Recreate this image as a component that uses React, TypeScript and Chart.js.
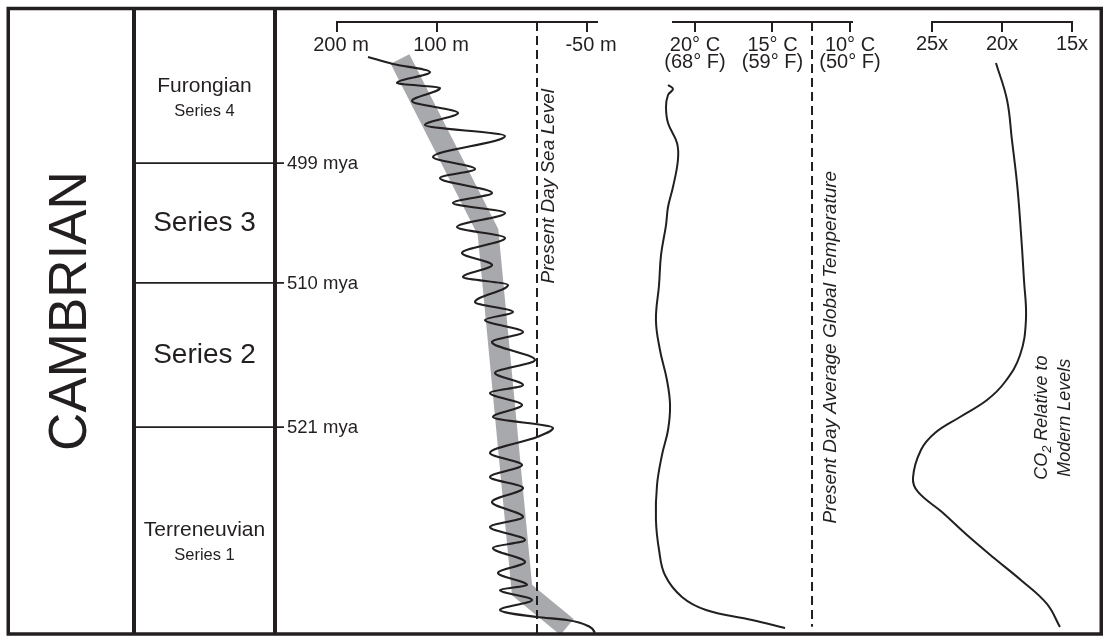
import React, { useEffect, useRef } from "react";
import { Chart, registerables } from "chart.js";

Chart.register(...registerables);

// ---------------- DATA ----------------
// Vertical axis: stratigraphic position down the column, 0 = top (youngest), 100 = base (oldest)
const periodName = "CAMBRIAN";
const seriesNames = ["Furongian", "Series 3", "Series 2", "Terreneuvian"];
const seriesSubNames = ["Series 4", "", "", "Series 1"];
const seriesTop = [0, 24.7, 43.9, 67.0];
const seriesBottom = [24.7, 43.9, 67.0, 100];
const boundaryLabels = ["499 mya", "510 mya", "521 mya"];
const boundaryPos = [24.7, 43.9, 67.0];

// Sea level (metres above present day)
const seaTickValues = [200, 100, -50];
const seaPos = [7.69, 8.81, 10.1, 11.86, 12.66, 14.74, 16.67, 18.59, 20.35, 23.72, 25.64, 27.08, 29.49, 31.09, 32.69, 34.94, 36.7, 39.1, 41.03, 42.95, 44.23, 46.96, 48.56, 49.84, 51.76, 53.37, 56.25, 58.33, 60.26, 61.54, 63.46, 65.38, 67.15, 68.59, 71.15, 73.08, 75.0, 76.76, 79.01, 81.41, 83.01, 85.1, 86.38, 88.62, 90.38, 92.31, 93.11, 94.71, 96.31, 97.44, 97.92, 99.04, 100];
const seaLevel = [169, 144, 107, 140, 97, 125, 79, 112, 32, 104, 62, 97, 45, 84, 32, 80, 32, 75, 45, 74, 29, 62, 24, 52, 14, 45, 2, 42, 14, 47, 15, 44, -16, 0, 47, 15, 47, 14, 45, 14, 47, 12, 44, 12, 39, 10, 37, 5, 37, 0, -30, -53, -58];
const seaTrendPos = [8.0, 35.74, 93.11, 99.04];
const seaTrend = [137, 49, 15, -30];
const presentSeaLevel = 0;

// Global temperature (deg C)
const tempTickValues = [20, 15, 10];
const tempTickF = [68, 59, 50];
const tempPos = [12.18, 12.82, 13.78, 15.71, 18.27, 21.47, 24.2, 28.53, 31.73, 34.62, 39.42, 44.23, 49.84, 54.65, 59.46, 63.46, 67.47, 71.47, 76.28, 81.89, 86.7, 90.71, 94.23, 96.31, 97.92, 99.2];
const tempC = [21.74, 21.42, 21.74, 21.87, 21.74, 21.16, 21.1, 21.42, 21.74, 21.87, 22.19, 22.32, 22.52, 22.26, 21.81, 21.61, 21.74, 22.13, 22.45, 22.52, 22.32, 21.94, 20.84, 19.29, 16.32, 14.19];
const presentTemp = 12.45;

// CO2 relative to modern levels (x)
const co2TickValues = [25, 20, 15];
const co2Pos = [8.65, 14.58, 20.99, 27.88, 33.81, 43.43, 49.84, 55.45, 59.78, 62.66, 65.38, 67.95, 70.67, 75.16, 77.4, 80.61, 84.29, 87.98, 91.67, 95.35, 99.04];
const co2Level = [20.43, 19.64, 19.29, 18.93, 18.71, 18.43, 18.29, 18.71, 19.79, 21.07, 23.0, 24.79, 25.79, 26.36, 26.0, 24.29, 22.5, 20.57, 18.57, 16.79, 15.86];

// ---------------- LAYOUT / STYLE ----------------
const W = 1105;
const H = 637;
const PLOT_TOP = 9;
const PLOT_BOTTOM = 633;
const AXIS_POS = 2.08; // position of the top axes lines
const FONT = "'Liberation Sans', Arial, Helvetica, sans-serif";
const INK = "#231f20";
const BAND = "#a7a9ac";

const FRAME = { left: 8.25, top: 8.5, right: 1101.25, bottom: 634 };
const COL1_X = 134;
const COL2_X = 275;

const pts = (xs: number[], ys: number[]) => xs.map((v, i) => ({ x: v, y: ys[i] }));

function makeLabelPlugin(id: string, lines: { t: string; sub?: boolean }[][], xv: number, yv: number, size: number, gap: number) {
  return {
    id,
    afterDatasetsDraw(chart: any) {
      const { ctx } = chart;
      const cx = chart.scales.x.getPixelForValue(xv);
      const cy = chart.scales.y.getPixelForValue(yv);
      ctx.save();
      ctx.translate(cx, cy);
      ctx.rotate(-Math.PI / 2);
      ctx.fillStyle = INK;
      ctx.textBaseline = "middle";
      ctx.textAlign = "left";
      const n = lines.length;
      lines.forEach((runs, i) => {
        const ly = (i - (n - 1) / 2) * gap;
        const widths = runs.map((r) => {
          ctx.font = `italic ${r.sub ? size * 0.72 : size}px ${FONT}`;
          return ctx.measureText(r.t).width;
        });
        const total = widths.reduce((a, b) => a + b, 0);
        let x = -total / 2;
        runs.forEach((r, k) => {
          ctx.font = `italic ${r.sub ? size * 0.72 : size}px ${FONT}`;
          ctx.fillText(r.t, x, ly + (r.sub ? size * 0.3 : 0));
          x += widths[k];
        });
      });
      ctx.restore();
    },
  };
}

const tablePlugin = {
  id: "stratTable",
  afterDraw(chart: any) {
    const { ctx } = chart;
    const ys = chart.scales.y;
    const line = (x1: number, y1: number, x2: number, y2: number, w: number) => {
      ctx.lineWidth = w;
      ctx.beginPath();
      ctx.moveTo(x1, y1);
      ctx.lineTo(x2, y2);
      ctx.stroke();
    };
    ctx.save();
    ctx.strokeStyle = INK;
    ctx.fillStyle = INK;
    // series boundaries and age ticks
    boundaryPos.forEach((p, i) => {
      const py = ys.getPixelForValue(p);
      line(COL1_X, py, 284, py, 1.8);
      ctx.font = `18.5px ${FONT}`;
      ctx.textAlign = "left";
      ctx.textBaseline = "middle";
      ctx.fillText(boundaryLabels[i], 287, py + 1);
    });
    // column rules
    line(COL1_X, FRAME.top, COL1_X, FRAME.bottom, 4);
    line(COL2_X, FRAME.top, COL2_X, FRAME.bottom, 4);
    // outer frame
    ctx.lineWidth = 3.5;
    ctx.strokeRect(FRAME.left, FRAME.top, FRAME.right - FRAME.left, FRAME.bottom - FRAME.top);
    // series names
    const cx = (COL1_X + COL2_X) / 2;
    ctx.textAlign = "center";
    ctx.textBaseline = "middle";
    seriesNames.forEach((name, i) => {
      const py = ys.getPixelForValue((seriesTop[i] + seriesBottom[i]) / 2);
      if (seriesSubNames[i]) {
        ctx.font = `21px ${FONT}`;
        ctx.fillText(name, cx, py);
        ctx.font = `16.5px ${FONT}`;
        ctx.fillText(seriesSubNames[i], cx, py + 25);
      } else {
        ctx.font = `28px ${FONT}`;
        ctx.fillText(name, cx, py);
      }
    });
    // period name
    ctx.save();
    ctx.translate((FRAME.left + COL1_X) / 2, ys.getPixelForValue(48.4));
    ctx.rotate(-Math.PI / 2);
    ctx.font = `53px ${FONT}`;
    ctx.fillText(periodName, 0, 0);
    ctx.restore();
    ctx.restore();
  },
};

function baseOptions(left: number, right: number, min: number, max: number, ticks: number[], label: (v: number, i: number) => any, padding: number, lineHeight: number, labelOffset = 0) {
  return {
    animation: false,
    responsive: false,
    devicePixelRatio: 1,
    events: [],
    layout: { padding: { left, right: W - right, top: PLOT_TOP, bottom: H - PLOT_BOTTOM } },
    plugins: { legend: { display: false }, tooltip: { enabled: false }, title: { display: false } },
    elements: { point: { radius: 0 }, line: { capBezierPoints: false } },
    scales: {
      x: {
        type: "linear",
        min,
        max,
        reverse: true,
        position: { y: AXIS_POS },
        afterBuildTicks: (s: any) => {
          s.ticks = ticks.map((v) => ({ value: v }));
        },
        ticks: {
          autoSkip: false,
          maxRotation: 0,
          color: INK,
          padding,
          labelOffset,
          font: { family: FONT, size: 20, lineHeight },
          callback: (v: any, i: number) => label(Number(v), i),
        },
        grid: { display: true, drawOnChartArea: false, drawTicks: true, tickLength: 9, color: INK, lineWidth: 2 },
        border: { display: true, color: INK, width: 2 },
      },
      y: { type: "linear", min: 0, max: 100, reverse: true, display: false },
    },
  } as any;
}

function seaConfig(): any {
  return {
    type: "line",
    data: {
      datasets: [
        { data: pts(seaLevel, seaPos), indexAxis: "y", cubicInterpolationMode: "monotone", borderColor: INK, borderWidth: 2.2, clip: false, order: 0 },
        { data: pts([presentSeaLevel, presentSeaLevel], [AXIS_POS, 100]), borderColor: INK, borderWidth: 2, borderDash: [9, 5], tension: 0, clip: false, order: 1 },
        { data: pts(seaTrend, seaTrendPos), borderColor: BAND, borderWidth: 21, tension: 0, borderCapStyle: "butt", borderJoinStyle: "miter", clip: false, order: 2 },
      ],
    },
    options: baseOptions(337, 597, -60, 200, seaTickValues, (v) => `${v} m`, 3, 1.2, 4),
    plugins: [tablePlugin, makeLabelPlugin("seaLabel", [[{ t: "Present Day Sea Level" }]], -12, 28.4, 19, 0)],
  };
}

function tempConfig(): any {
  return {
    type: "line",
    data: {
      datasets: [
        { data: pts(tempC, tempPos), borderColor: INK, borderWidth: 2, tension: 0.4, clip: false, order: 0 },
        { data: pts([presentTemp, presentTemp], [AXIS_POS, 99]), borderColor: INK, borderWidth: 2, borderDash: [9, 5], tension: 0, clip: false, order: 1 },
      ],
    },
    options: baseOptions(673, 852, 9.871, 21.419, tempTickValues, (v, i) => [`${v}° C`, `(${tempTickF[i]}° F)`], 6, 0.85),
    plugins: [makeLabelPlugin("tempLabel", [[{ t: "Present Day Average Global Temperature" }]], 11.23, 54.2, 19, 0)],
  };
}

function co2Config(): any {
  return {
    type: "line",
    data: {
      datasets: [{ data: pts(co2Level, co2Pos), borderColor: INK, borderWidth: 2, tension: 0.4, clip: false }],
    },
    options: baseOptions(932, 1072, 15, 25, co2TickValues, (v) => `${v}x`, 2, 1.2),
    plugins: [
      makeLabelPlugin(
        "co2Label",
        [
          [{ t: "CO" }, { t: "2", sub: true }, { t: " Relative to" }],
          [{ t: "Modern Levels" }],
        ],
        16.29,
        65.5,
        18,
        23
      ),
    ],
  };
}

export default function App() {
  const seaRef = useRef<HTMLCanvasElement>(null);
  const tempRef = useRef<HTMLCanvasElement>(null);
  const co2Ref = useRef<HTMLCanvasElement>(null);

  useEffect(() => {
    const charts = [
      new Chart(seaRef.current as HTMLCanvasElement, seaConfig()),
      new Chart(tempRef.current as HTMLCanvasElement, tempConfig()),
      new Chart(co2Ref.current as HTMLCanvasElement, co2Config()),
    ];
    return () => charts.forEach((c) => c.destroy());
  }, []);

  const cs: React.CSSProperties = { position: "absolute", left: 0, top: 0, width: W, height: H };
  return (
    <div style={{ position: "absolute", left: 0, top: 0, width: W, height: H, background: "#fff", overflow: "hidden" }}>
      <canvas ref={seaRef} width={W} height={H} style={cs} />
      <canvas ref={tempRef} width={W} height={H} style={cs} />
      <canvas ref={co2Ref} width={W} height={H} style={cs} />
    </div>
  );
}
